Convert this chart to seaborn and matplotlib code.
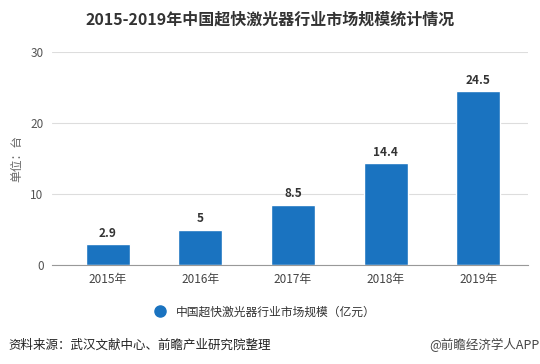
import matplotlib
matplotlib.use("Agg")
import matplotlib.pyplot as plt
from matplotlib.lines import Line2D
import seaborn as sns
import pandas as pd

years = ["2015年", "2016年", "2017年", "2018年", "2019年"]
values = [2.9, 5, 8.5, 14.4, 24.5]
value_labels = ["2.9", "5", "8.5", "14.4", "24.5"]
series_name = "中国超快激光器行业市场规模（亿元）"
title = "2015-2019年中国超快激光器行业市场规模统计情况"
ylabel = "单位：台"
source = "资料来源：武汉文献中心、前瞻产业研究院整理"
credit = "@前瞻经济学人APP"

sns.set_theme(style="white")
plt.rcParams['font.family'] = ['Noto Sans CJK SC', 'DejaVu Sans']

bar_color = "#1a73c0"
df = pd.DataFrame({"year": years, "value": values})

fig = plt.figure(figsize=(5.4, 3.64), dpi=100)
ax = fig.add_axes([0.0963, 0.272, 0.882, 0.585])
sns.barplot(data=df, x="year", y="value", color=bar_color, width=0.475,
            saturation=1, ax=ax)

ax.set_xlim(-0.6, 4.54)
ax.set_ylim(0, 30)
ax.set_yticks([0, 10, 20, 30])
ax.grid(axis="y", color="#dddddd", linewidth=0.8)
ax.set_axisbelow(True)
for s in ["top", "right", "left"]:
    ax.spines[s].set_visible(False)
ax.spines["bottom"].set_color("#999999")
ax.spines["bottom"].set_linewidth(0.8)
ax.tick_params(axis="x", colors="#999999", length=4, width=0.8, labelsize=8.5,
               labelcolor="#444444", pad=2)
ax.tick_params(axis="y", length=0, labelsize=8.5, labelcolor="#555555", pad=6)
ax.set_xlabel("")
ax.set_ylabel(ylabel, fontsize=8.5, color="#666666", labelpad=5)

for i, (v, lab) in enumerate(zip(values, value_labels)):
    ax.text(i, v + 0.6, lab, ha="center", va="bottom", fontsize=8.5,
            fontweight="bold", color="#333333")

fig.text(0.5, 0.945, title, ha="center", va="center", fontsize=11.5,
         fontweight="bold", color="#333333")

handle = Line2D([], [], marker="o", linestyle="none", markersize=8,
                markerfacecolor=bar_color, markeredgecolor=bar_color)
fig.legend([handle], [series_name], loc="center", bbox_to_anchor=(0.485, 0.143),
           frameon=False, fontsize=8.5, handletextpad=0.4,
           labelcolor="#333333")

fig.text(0.015, 0.052, source, ha="left", va="center", fontsize=9, color="#222222")
fig.text(1.0, 0.052, credit, ha="right", va="center", fontsize=9, color="#444444")

fig.savefig("out.png", dpi=100, facecolor="white")
